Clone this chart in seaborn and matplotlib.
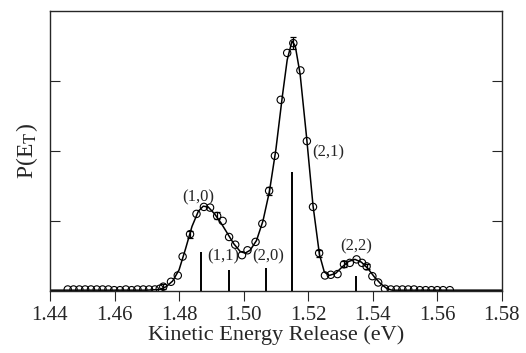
import matplotlib
matplotlib.use("Agg")
import numpy as np
import pandas as pd
import matplotlib.pyplot as plt
import seaborn as sns

# puntos experimentales (eV, unidades arbitrarias)
energia = [1.4455, 1.4473, 1.4491, 1.4509, 1.4527, 1.4545, 1.4563, 1.4581,
           1.4599, 1.4617, 1.4635, 1.4653, 1.4671, 1.4689, 1.4707, 1.4725,
           1.4740,
           1.4751, 1.4775, 1.4796, 1.4811, 1.4834, 1.4854, 1.4877, 1.4896,
           1.4918, 1.4935, 1.4955, 1.4974, 1.4995, 1.5012, 1.5037, 1.5058,
           1.5079, 1.5097, 1.5115, 1.5135, 1.5154, 1.5176, 1.5196, 1.5215,
           1.5234, 1.5252, 1.5270, 1.5291, 1.5311, 1.5329, 1.5350, 1.5367,
           1.5381, 1.5399, 1.5417, 1.5438,
           1.5456, 1.5474, 1.5492, 1.5510, 1.5528, 1.5546, 1.5564, 1.5582,
           1.5600, 1.5618, 1.5639]
intensidad = [0.02, 0.02, 0.02, 0.02, 0.02, 0.02, 0.02, 0.02,
              0.01, 0.01, 0.02, 0.01, 0.02, 0.02, 0.02, 0.02,
              0.03,
              0.06, 0.13, 0.22, 0.49, 0.81, 1.10, 1.20, 1.19,
              1.07, 1.00, 0.77, 0.66, 0.51, 0.58, 0.70, 0.96,
              1.43, 1.93, 2.73, 3.40, 3.54, 3.15, 2.14, 1.20,
              0.54, 0.22, 0.23, 0.24, 0.38, 0.40, 0.45, 0.40,
              0.35, 0.21, 0.12, 0.03,
              0.02, 0.02, 0.02, 0.02, 0.02, 0.01, 0.01, 0.01,
              0.01, 0.01, 0.01]

# ajuste (linea continua)
ajuste_x = [1.440, 1.470, 1.4740, 1.4760, 1.4780, 1.4800, 1.4820, 1.4840,
            1.4860, 1.4875, 1.4890, 1.4910, 1.4930, 1.4950, 1.4970, 1.4990,
            1.5005, 1.5020, 1.5040, 1.5060, 1.5080, 1.5100, 1.5120, 1.5135,
            1.5150, 1.5160, 1.5175, 1.5195, 1.5215, 1.5235, 1.5250, 1.5265,
            1.5285, 1.5305, 1.5325, 1.5345, 1.5365, 1.5385, 1.5405, 1.5425,
            1.5445, 1.5460, 1.580]
ajuste_y = [0.01, 0.01, 0.02, 0.06, 0.14, 0.30, 0.60, 0.92,
            1.14, 1.21, 1.20, 1.10, 0.97, 0.82, 0.67, 0.56,
            0.54, 0.58, 0.72, 1.00, 1.42, 2.02, 2.78, 3.30,
            3.57, 3.50, 3.10, 2.20, 1.22, 0.52, 0.27, 0.22,
            0.25, 0.34, 0.42, 0.45, 0.41, 0.32, 0.20, 0.10,
            0.03, 0.01, 0.01]

# barras de error en algunos puntos
err_x = [1.4751, 1.4834, 1.4918, 1.5079, 1.5154, 1.5234, 1.5311, 1.5381]
err_y = [0.06, 0.81, 1.07, 1.43, 3.54, 0.54, 0.38, 0.35]
err_e = [0.04, 0.05, 0.05, 0.06, 0.09, 0.05, 0.04, 0.04]

# espectro de lineas (transiciones)
lineas_x = [1.4869, 1.4955, 1.5068, 1.5150, 1.5348]
lineas_h = [0.55, 0.30, 0.32, 1.70, 0.21]

etiquetas = ["(1,0)", "(1,1)", "(2,0)", "(2,1)", "(2,2)"]
etiq_x = [1.4858, 1.4936, 1.5075, 1.5261, 1.5348]
etiq_y = [1.34, 0.49, 0.49, 1.98, 0.63]

sns.set_style("ticks")
plt.rcParams['font.family'] = ['Liberation Serif', 'DejaVu Serif']
plt.rcParams['mathtext.fontset'] = 'stix'

fig = plt.figure(figsize=(5.26, 3.53), dpi=100)
ax = fig.add_axes([0.095, 0.176, 0.859, 0.793])

df_fit = pd.DataFrame({"E": ajuste_x, "P": ajuste_y})
sns.lineplot(data=df_fit, x="E", y="P", ax=ax, color="black", linewidth=1.1)

ax.errorbar(err_x, err_y, yerr=err_e, fmt="none", ecolor="black",
            elinewidth=0.9, capsize=2.5, capthick=0.9)

df = pd.DataFrame({"E": energia, "P": intensidad})
sns.scatterplot(data=df, x="E", y="P", ax=ax, marker="o", s=28,
                facecolor="none", edgecolor="black", linewidth=0.8)

ax.vlines(lineas_x, 0, lineas_h, color="black", linewidth=1.4)

for t, x, y in zip(etiquetas, etiq_x, etiq_y):
    ax.text(x, y, t, fontsize=12, ha="center", va="center")

ax.set_xlim(1.44, 1.58)
ax.set_ylim(0, 4)
ax.set_xticks(np.arange(1.44, 1.5801, 0.02))
ax.set_xticklabels([f"{v:.2f}" for v in np.arange(1.44, 1.5801, 0.02)])
ax.set_yticks([1, 2, 3])
ax.set_yticklabels([])
ax.tick_params(axis="x", direction="out", length=7, width=0.8, labelsize=15, pad=4)
ax.tick_params(axis="y", direction="in", length=7, width=0.8, right=True)
for s in ax.spines.values():
    s.set_linewidth(1.0)

ax.set_xlabel("Kinetic Energy Release (eV)", fontsize=16, labelpad=0)
ax.set_ylabel(r"P(E$_\mathrm{T}$)", fontsize=17, labelpad=4)

fig.savefig("out.png", dpi=100)
